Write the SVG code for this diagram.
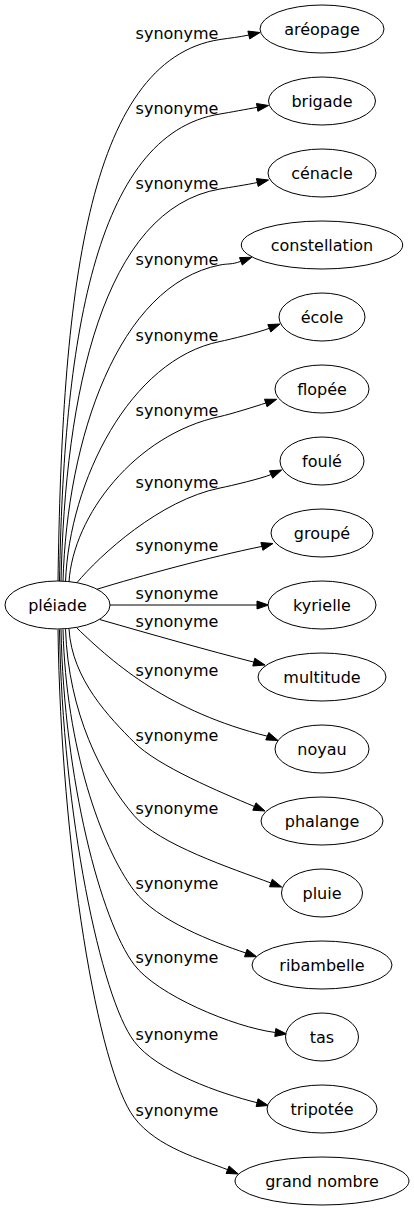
<svg xmlns="http://www.w3.org/2000/svg" width="414" height="1211" viewBox="0 0 414 1211">
<style>
.n ellipse{fill:#fff;stroke:#000;stroke-width:1}
text{font-family:"DejaVu Sans",sans-serif;font-size:16px;fill:#000;text-anchor:middle}
.e path{fill:none;stroke:#000;stroke-width:1}
.e polygon{fill:#000;stroke:#000;stroke-width:1}
</style>
<rect width="414" height="1211" fill="#fff"/>
<g id="edges" class="e">
<path d="M58,581.5 C62,300 85,60 220,39.5 C229.9,38 239,37.2 248.8,35"/>
<polygon points="260,32.5 249.7,38.9 247.9,31.1"/>
<path d="M59.5,581.5 C63.5,347.75 93,134 220,114 C229.9,112.4 247.3,109 257.2,107.4"/>
<polygon points="268.5,105.5 257.9,111.3 256.5,103.5"/>
<path d="M61,581.6 C65,393.2 103,209 220,189 C229.9,187.3 247.5,184.7 257.3,182.5"/>
<polygon points="268.5,180 258.2,186.4 256.4,178.6"/>
<path d="M63,581.6 C67,439.1 118,285 220,265 C228,263.4 231.5,264.8 240.9,261.3"/>
<polygon points="251.7,257.3 242.3,265.05 239.5,257.55"/>
<path d="M65.5,581.8 C69.5,480.9 130,359.5 220,341.5 C229.8,339.5 260,332 269.3,328.3"/>
<polygon points="280,324 270.8,332 267.8,324.6"/>
<path d="M69,582.1 C73,515.9 135,434.5 220,416.5 C229.8,414.4 256.3,406.2 265.8,403"/>
<polygon points="276.7,399.3 267.1,406.8 264.5,399.2"/>
<path d="M76.5,583.2 C100,555 160,500 220,488 C232,485.6 261.9,478.4 271.1,474.5"/>
<polygon points="281.7,470 272.7,478.2 269.5,470.8"/>
<path d="M96.5,589.4 C140,576 210,557 261.9,546.4"/>
<polygon points="273,543.5 262.9,550.3 260.9,542.5"/>
<path d="M110,605 L257,605"/>
<polygon points="268.5,605 257,609 257,601"/>
<path d="M100,619.6 C150,634 210,651 253.8,662.1"/>
<polygon points="265,665 252.8,666 254.8,658.2"/>
<path d="M76.7,627.8 C115,665 170,712 267.3,736.2"/>
<polygon points="278,740.5 265.8,739.9 268.8,732.5"/>
<path d="M69,628.9 C72,679.9 110.2,718.1 134,742.2 C157.8,766.3 221.3,792.5 254.4,806.5"/>
<polygon points="265,811 252.8,810.2 256,802.8"/>
<path d="M65.5,629.2 C68.5,713 101.5,777.5 134,815.5 C158.7,844.4 232.4,868.65 270.9,883"/>
<polygon points="281.7,887 269.5,886.8 272.3,879.2"/>
<path d="M63,629.4 C66,746.9 101,846.5 134,890.5 C156.8,920.9 214.1,942.3 245.8,953"/>
<polygon points="256.7,956.7 244.5,956.8 247.1,949.2"/>
<path d="M61,629.4 C64,780.2 101,920.5 134,964.5 C156.8,994.9 233.3,1027 275.3,1032.5"/>
<polygon points="286.7,1034 274.8,1036.5 275.8,1028.5"/>
<path d="M59.5,629.5 C62.5,814.8 101,997.2 134,1041.2 C156.8,1071.6 221.2,1093.8 257.1,1102.7"/>
<polygon points="268.3,1105.5 256.1,1106.6 258.1,1098.8"/>
<path d="M58,629.5 C61,849 98,1069.3 134,1117.3 C156.8,1147.7 201.6,1159.3 227.6,1169.7"/>
<polygon points="238.3,1174 226.1,1173.4 229.1,1166"/>
<text x="177" y="39">synonyme</text>
<text x="177" y="113.5">synonyme</text>
<text x="177" y="188.5">synonyme</text>
<text x="177" y="264.5">synonyme</text>
<text x="177" y="340.5">synonyme</text>
<text x="177" y="416">synonyme</text>
<text x="177" y="487.5">synonyme</text>
<text x="177" y="550.5">synonyme</text>
<text x="177" y="598.5">synonyme</text>
<text x="177" y="626.5">synonyme</text>
<text x="177" y="675.5">synonyme</text>
<text x="177" y="740.5">synonyme</text>
<text x="177" y="814">synonyme</text>
<text x="177" y="889">synonyme</text>
<text x="177" y="963">synonyme</text>
<text x="177" y="1039.5">synonyme</text>
<text x="177" y="1115.5">synonyme</text>
</g>
<g id="pleiade" class="n"><ellipse cx="57.5" cy="605" rx="52.5" ry="24"/><text x="57.5" y="611">pléiade</text></g>
<g id="areopage" class="n"><ellipse cx="322" cy="29" rx="62" ry="24"/><text x="322" y="35">aréopage</text></g>
<g id="brigade" class="n"><ellipse cx="322" cy="101" rx="53.5" ry="24"/><text x="322" y="107">brigade</text></g>
<g id="cenacle" class="n"><ellipse cx="322" cy="173" rx="54" ry="24"/><text x="322" y="179">cénacle</text></g>
<g id="constellation" class="n"><ellipse cx="322" cy="245" rx="80.7" ry="24"/><text x="322" y="251">constellation</text></g>
<g id="ecole" class="n"><ellipse cx="322" cy="317" rx="43" ry="24"/><text x="322" y="323">école</text></g>
<g id="flopee" class="n"><ellipse cx="322" cy="389" rx="47" ry="24"/><text x="322" y="395">flopée</text></g>
<g id="foule" class="n"><ellipse cx="322" cy="461" rx="42" ry="24"/><text x="322" y="467">foulé</text></g>
<g id="groupe" class="n"><ellipse cx="322" cy="533" rx="51" ry="24"/><text x="322" y="539">groupé</text></g>
<g id="kyrielle" class="n"><ellipse cx="322" cy="605" rx="54" ry="24"/><text x="322" y="611">kyrielle</text></g>
<g id="multitude" class="n"><ellipse cx="322" cy="677" rx="64" ry="24"/><text x="322" y="683">multitude</text></g>
<g id="noyau" class="n"><ellipse cx="322" cy="749" rx="47" ry="24"/><text x="322" y="755">noyau</text></g>
<g id="phalange" class="n"><ellipse cx="322" cy="821" rx="61" ry="24"/><text x="322" y="827">phalange</text></g>
<g id="pluie" class="n"><ellipse cx="322" cy="893" rx="40.5" ry="24"/><text x="322" y="899">pluie</text></g>
<g id="ribambelle" class="n"><ellipse cx="322" cy="965" rx="70" ry="24"/><text x="322" y="971">ribambelle</text></g>
<g id="tas" class="n"><ellipse cx="322" cy="1037" rx="36.5" ry="24"/><text x="322" y="1043">tas</text></g>
<g id="tripotee" class="n"><ellipse cx="322" cy="1109" rx="55" ry="24"/><text x="322" y="1115">tripotée</text></g>
<g id="grand_nombre" class="n"><ellipse cx="322" cy="1181" rx="87" ry="24"/><text x="322" y="1187">grand nombre</text></g>
</svg>
